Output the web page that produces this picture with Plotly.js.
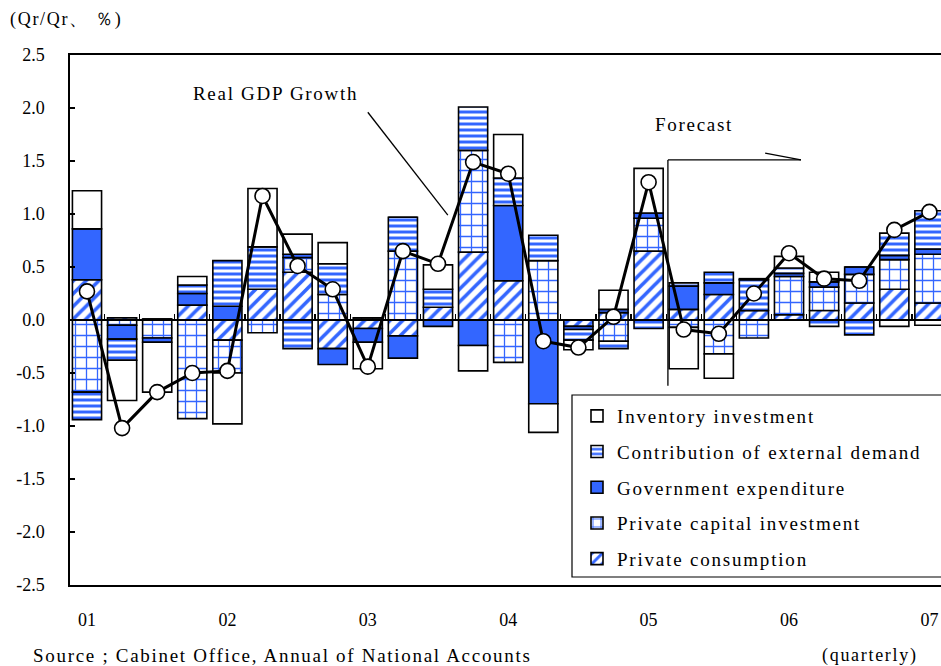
<!DOCTYPE html>
<html><head><meta charset="utf-8">
<script src="https://cdn.plot.ly/plotly-3.0.1.min.js"></script>
<style>
body{margin:0;background:#fff}
.legendtext{letter-spacing:1.8px}
.annotation-text{letter-spacing:1.7px}
</style>
</head><body><div id="chart" style="width:941px;height:666px"></div>
<script>
const quarters = ['01Q1','01Q2','01Q3','01Q4','02Q1','02Q2','02Q3','02Q4','03Q1','03Q2','03Q3','03Q4',
  '04Q1','04Q2','04Q3','04Q4','05Q1','05Q2','05Q3','05Q4','06Q1','06Q2','06Q3','06Q4','07Q1'];
const yearLabels = ['01','02','03','04','05','06','07'];
const yTickVals = [-2.5,-2.0,-1.5,-1.0,-0.5,0.0,0.5,1.0,1.5,2.0,2.5];
const yTickText = ['-2.5','-2.0','-1.5','-1.0','-0.5','0.0','0.5','1.0','1.5','2.0','2.5'];
const privateConsumption = [0.38,0.02,0.01,0.14,-0.19,0.29,0.45,-0.27,-0.08,-0.15,0.12,0.64,0.37,0.00,-0.06,0.07,0.65,0.10,0.24,0.09,0.05,0.09,0.16,0.29,0.16];
const privateCapital     = [-0.68,-0.05,-0.17,-0.93,-0.31,-0.12,0.14,0.24,0.02,0.65,0.00,0.96,-0.40,0.56,0.00,-0.20,0.31,-0.07,-0.32,-0.17,0.36,0.22,0.27,0.28,0.46];
const governmentExp      = [0.48,-0.13,-0.04,0.11,0.13,0.00,0.03,-0.15,-0.13,-0.21,-0.06,-0.24,0.71,-0.79,-0.03,0.03,0.05,0.22,0.11,0.00,0.03,0.05,0.07,0.04,0.05];
const externalDemand     = [-0.26,-0.20,0.00,0.08,0.43,0.40,-0.27,0.29,0.00,0.32,0.17,0.41,0.26,0.24,-0.10,-0.07,-0.08,0.03,0.10,0.29,0.05,-0.06,-0.14,0.21,0.36];
const inventoryInv       = [0.36,-0.38,-0.47,0.08,-0.48,0.55,0.19,0.20,-0.25,0.00,0.23,-0.24,0.41,-0.27,-0.09,0.18,0.42,-0.39,-0.23,0.01,0.11,0.09,0.00,-0.06,-0.05];
const realGdpGrowth      = [0.27,-1.02,-0.68,-0.50,-0.48,1.17,0.51,0.29,-0.44,0.65,0.53,1.49,1.38,-0.20,-0.26,0.03,1.30,-0.09,-0.13,0.25,0.63,0.39,0.37,0.85,1.02];

const xs = quarters.map((q, i) => i);
const yearTickVals = quarters.map((q, i) => q.endsWith('Q1') ? i : null).filter(v => v !== null);
const boundaryVals = quarters.slice(1).map((q, i) => i + 0.5);

const BLUE = '#3366ff';
const serif = 'Liberation Serif, Times New Roman, serif';
const outline = {color: '#000', width: 1.6};

function barTrace(name, y, rank, pattern, color) {
  return {
    type: 'bar', name: name, x: xs, y: y, legendgroup: name, legendrank: rank,
    marker: {color: color || '#fff', line: outline, pattern: pattern},
    hoverinfo: 'skip'
  };
}

const traces = [
  barTrace('Private consumption', privateConsumption, 5,
    {shape: '/', fgcolor: BLUE, bgcolor: '#fff', size: 9, solidity: 0.4, fillmode: 'replace'}),
  barTrace('Private capital investment', privateCapital, 4,
    {shape: '+', fgcolor: BLUE, bgcolor: '#fff', size: 11, solidity: 0.22, fillmode: 'replace'}),
  barTrace('Government expenditure', governmentExp, 3, {shape: ''}, BLUE),
  barTrace('Contribution of external demand', externalDemand, 2,
    {shape: '-', fgcolor: BLUE, bgcolor: '#fff', size: 6, solidity: 0.5, fillmode: 'replace'}),
  barTrace('Inventory investment', inventoryInv, 1, {shape: ''}, '#fff'),
  {
    type: 'scatter', mode: 'lines+markers', name: 'Real GDP Growth', x: xs, y: realGdpGrowth,
    showlegend: false, line: {color: '#000', width: 3},
    marker: {symbol: 'circle', size: 15, color: '#fff', line: {color: '#000', width: 1.6}}
  },
  {type: 'scatter', x: [], y: [], xaxis: 'x2', showlegend: false}
];

const X0 = -0.484, X1 = 24.33;
const W = 871, H = 530, L = 70, T = 55;
const px = v => (v - L) / W;          // pixel x -> paper
const py = v => (T + H - v) / H;      // pixel y -> paper

const layout = {
  width: 941, height: 666,
  margin: {l: L, r: 0, t: T, b: 81},
  paper_bgcolor: '#fff', plot_bgcolor: '#fff',
  barmode: 'relative', bargap: 0.17,
  font: {family: serif, color: '#000', size: 18},
  showlegend: true,
  legend: {
    x: px(577), xanchor: 'left', y: py(397), yanchor: 'top',
    bgcolor: 'rgba(0,0,0,0)', borderwidth: 0,
    font: {family: serif, size: 19, color: '#000'},
    traceorder: 'grouped', tracegroupgap: 8
  },
  xaxis: {
    range: [X0, X1], showgrid: false, zeroline: false,
    showline: true, linecolor: '#000', linewidth: 1.6, mirror: true,
    tickvals: yearTickVals, ticktext: yearLabels, ticks: '',
    ticklabelstandoff: 18,
    tickfont: {family: serif, size: 18, color: '#000'}
  },
  xaxis2: {
    range: [X0, X1], overlaying: 'x', anchor: 'free', position: 0.5,
    showgrid: false, zeroline: false, showline: true, linecolor: '#000', linewidth: 2,
    tickvals: boundaryVals, ticks: 'inside', ticklen: 5, tickwidth: 1.3, tickcolor: '#000',
    showticklabels: false
  },
  yaxis: {
    range: [-2.5, 2.5], tickvals: yTickVals, ticktext: yTickText,
    showgrid: false, zeroline: false,
    showline: true, linecolor: '#000', linewidth: 1.6, mirror: true,
    ticks: 'inside', ticklen: 5, tickwidth: 1.3, tickcolor: '#000',
    ticklabelstandoff: 20,
    tickfont: {family: serif, size: 18, color: '#000'}
  },
  annotations: [
    {xref: 'paper', yref: 'paper', x: px(8), y: py(20), xanchor: 'left', yanchor: 'middle', align: 'left',
     text: '(Qr/Qr、 ％)', showarrow: false, font: {family: serif, size: 18}},
    {xref: 'paper', yref: 'paper', x: px(31), y: py(655), xanchor: 'left', yanchor: 'middle', align: 'left',
     text: 'Source ; Cabinet Office, Annual of National Accounts', showarrow: false, font: {family: serif, size: 19}},
    {xref: 'paper', yref: 'paper', x: px(820), y: py(655), xanchor: 'left', yanchor: 'middle', align: 'left',
     text: '(quarterly)', showarrow: false, font: {family: serif, size: 18}},
    {xref: 'paper', yref: 'paper', x: px(191), y: py(93), xanchor: 'left', yanchor: 'middle', align: 'left',
     text: 'Real GDP Growth', showarrow: false, font: {family: serif, size: 19}},
    {xref: 'paper', yref: 'paper', x: px(653), y: py(125), xanchor: 'left', yanchor: 'middle', align: 'left',
     text: 'Forecast', showarrow: false, font: {family: serif, size: 19}}
  ],
  shapes: [
    {type: 'rect', xref: 'paper', yref: 'paper', x0: px(572), y0: py(395), x1: px(960), y1: py(577),
     fillcolor: '#fff', line: {color: '#000', width: 1.2}, layer: 'above'},
    {type: 'line', xref: 'x', yref: 'y', x0: 8.0, y0: 1.96, x1: 10.28, y1: 0.99, line: {color: '#000', width: 1.3}},
    {type: 'line', xref: 'x', yref: 'y', x0: 16.55, y0: 1.51, x1: 16.55, y1: -0.62, line: {color: '#000', width: 1.3}},
    {type: 'line', xref: 'x', yref: 'y', x0: 16.55, y0: 1.51, x1: 20.34, y1: 1.51, line: {color: '#000', width: 1.3}},
    {type: 'line', xref: 'x', yref: 'y', x0: 19.32, y0: 1.575, x1: 20.34, y1: 1.51, line: {color: '#000', width: 1.3}}
  ]
};

Plotly.newPlot('chart', traces, layout, {displayModeBar: false, staticPlot: true});
</script></body></html>
